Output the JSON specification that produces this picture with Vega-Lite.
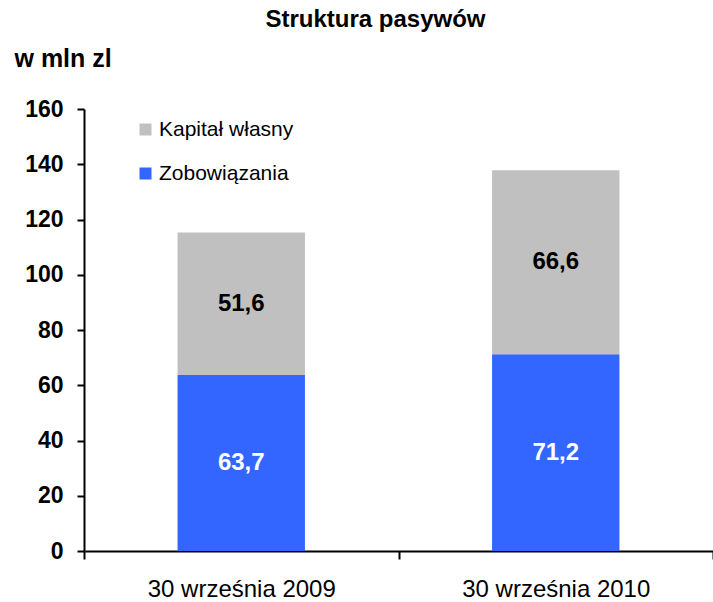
{
  "$schema": "https://vega.github.io/schema/vega-lite/v6.json",
  "width": 629,
  "height": 442,
  "autosize": {"type": "none"},
  "padding": {"left": 84, "top": 109, "right": 0, "bottom": 51},
  "background": "white",
  "config": {
    "view": {"stroke": null},
    "font": "Liberation Sans",
    "locale": {"number": {"decimal": ",", "thousands": " ", "grouping": [3], "currency": ["", " zł"]}}
  },
  "title": {
    "text": "Struktura pasywów",
    "anchor": "middle",
    "frame": "group",
    "fontSize": 24,
    "fontWeight": "bold",
    "font": "Liberation Sans",
    "color": "black",
    "dx": -23,
    "offset": 14
  },
  "data": {
    "values": [
      {"date": "30 września 2009", "series": "Zobowiązania", "value": 63.7, "ord": 1},
      {"date": "30 września 2009", "series": "Kapitał własny", "value": 51.6, "ord": 2},
      {"date": "30 września 2010", "series": "Zobowiązania", "value": 71.2, "ord": 1},
      {"date": "30 września 2010", "series": "Kapitał własny", "value": 66.6, "ord": 2}
    ]
  },
  "encoding": {
    "x": {
      "field": "date",
      "type": "nominal",
      "scale": {"paddingInner": 0, "paddingOuter": 0},
      "axis": {
        "title": null,
        "labelAngle": 0,
        "labelFontSize": 24,
        "labelLimit": 0,
        "labelColor": "black",
        "labelPadding": 18,
        "tickBand": "extent",
        "tickSize": 8,
        "tickWidth": 2,
        "tickColor": "black",
        "domainColor": "black",
        "domainWidth": 2,
        "grid": false
      }
    }
  },
  "layer": [
    {
      "mark": {"type": "bar", "width": {"band": 0.405}},
      "encoding": {
        "y": {
          "field": "value",
          "type": "quantitative",
          "stack": "zero",
          "scale": {"domain": [0, 160], "nice": false},
          "axis": {
            "values": [0, 20, 40, 60, 80, 100, 120, 140, 160],
            "title": "w mln zl",
            "titleAngle": 0,
            "titleAlign": "left",
            "titleBaseline": "middle",
            "titleX": -70,
            "titleY": -51,
            "titleFontSize": 25,
            "titleFontWeight": "bold",
            "titleColor": "black",
            "labelFontSize": 23,
            "labelFontWeight": "bold",
            "labelColor": "black",
            "labelPadding": 14,
            "tickSize": 7,
            "tickWidth": 2,
            "tickColor": "black",
            "domainColor": "black",
            "domainWidth": 2,
            "grid": false
          }
        },
        "color": {
          "field": "series",
          "type": "nominal",
          "scale": {"domain": ["Kapitał własny", "Zobowiązania"], "range": ["#C0C0C0", "#3366FF"]},
          "legend": {
            "title": null,
            "orient": "none",
            "legendX": 51,
            "legendY": 10,
            "symbolType": "square",
            "symbolSize": 144,
            "symbolStrokeWidth": 0,
            "labelFontSize": 21,
            "labelColor": "black",
            "rowPadding": 22,
            "labelOffset": 3
          }
        },
        "order": {"field": "ord", "type": "quantitative"}
      }
    },
    {
      "mark": {"type": "text", "fontSize": 24, "fontWeight": "bold", "baseline": "middle"},
      "encoding": {
        "y": {"field": "value", "type": "quantitative", "stack": "zero", "bandPosition": 0.5},
        "text": {"field": "value", "type": "quantitative", "format": ".1f"},
        "detail": {"field": "series"},
        "order": {"field": "ord", "type": "quantitative"},
        "color": {"condition": {"test": "datum.series === 'Zobowiązania'", "value": "white"}, "value": "black"}
      }
    }
  ]
}
